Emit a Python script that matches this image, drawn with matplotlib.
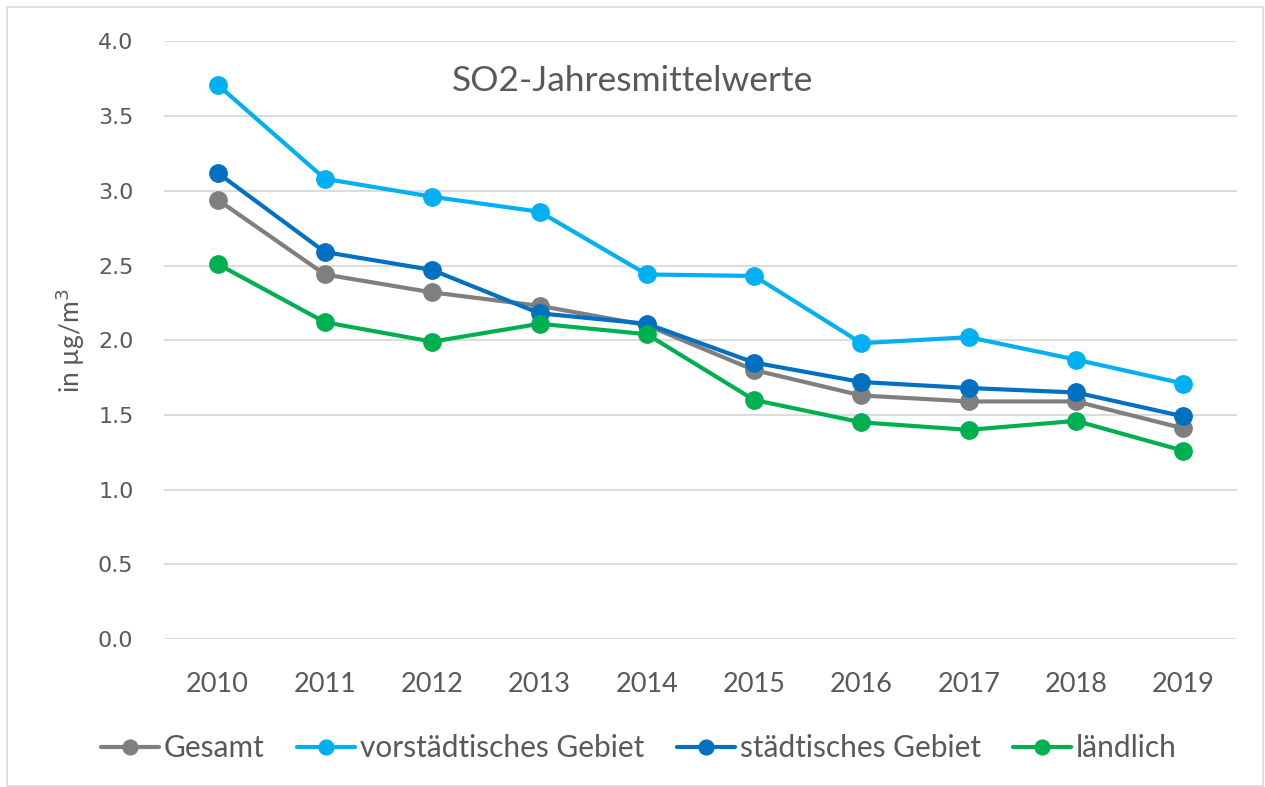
import matplotlib
matplotlib.use("Agg")
import matplotlib.pyplot as plt
from matplotlib.patches import Rectangle

# Annual mean SO2 concentrations (µg/m³)
years = ["2010", "2011", "2012", "2013", "2014", "2015", "2016", "2017", "2018", "2019"]
gesamt = [2.94, 2.44, 2.32, 2.23, 2.10, 1.80, 1.63, 1.59, 1.59, 1.41]
vorstaedtisch = [3.71, 3.08, 2.96, 2.86, 2.44, 2.43, 1.98, 2.02, 1.87, 1.71]
staedtisch = [3.12, 2.59, 2.47, 2.18, 2.11, 1.85, 1.72, 1.68, 1.65, 1.49]
laendlich = [2.51, 2.12, 1.99, 2.11, 2.04, 1.60, 1.45, 1.40, 1.46, 1.26]

series = [
    ("Gesamt", gesamt, "#7F7F7F"),
    ("vorstädtisches Gebiet", vorstaedtisch, "#00B0F0"),
    ("städtisches Gebiet", staedtisch, "#0070C0"),
    ("ländlich", laendlich, "#00B050"),
]

yticks = [0.0, 0.5, 1.0, 1.5, 2.0, 2.5, 3.0, 3.5, 4.0]

TEXT = "#595959"
GRID = "#D9D9D9"
LABEL_FONT = ["Lato", "DejaVu Sans"]

W, H = 1265, 787
fig = plt.figure(figsize=(W / 100, H / 100), dpi=100)
fig.patch.set_facecolor("white")

# thin outer frame of the chart area
fig.add_artist(Rectangle((7 / W, 1 - 786 / H), (1263 - 7) / W, (786 - 7) / H,
                         transform=fig.transFigure, fill=False,
                         edgecolor="#D9D9D9", linewidth=1.2))

left, right = 164 / W, 1237 / W
bottom, top = 1 - 639 / H, 1 - 41.4 / H
ax = fig.add_axes([left, bottom, right - left, top - bottom])

x = list(range(len(years)))
for name, vals, col in series:
    ax.plot(x, vals, color=col, linewidth=3.0, marker="o", markersize=12.5,
            label=name, solid_capstyle="round", zorder=3)

ax.set_xlim(-0.5, len(years) - 0.5)
ax.set_ylim(0, 4)
ax.set_yticks(yticks)
ax.set_yticklabels([f"{v:.1f}" for v in yticks], fontsize=16,
                   color=TEXT, family="DejaVu Sans")
ax.set_xticks(x)
ax.set_xticklabels(years, fontsize=19.5, color=TEXT, family=LABEL_FONT)
ax.tick_params(axis="y", length=0, pad=22)
ax.tick_params(axis="x", length=0, pad=24)

ax.grid(axis="y", color=GRID, linewidth=1.3, zorder=0)
ax.set_axisbelow(True)
for s in ax.spines.values():
    s.set_visible(False)

ax.set_ylabel("in µg/m$^3$", fontsize=19, color=TEXT, family=LABEL_FONT)
ax.yaxis.set_label_coords(-0.072, 0.5)

ax.text(0.437, 0.934, "SO2-Jahresmittelwerte", transform=ax.transAxes,
        ha="center", va="center", fontsize=25.5, color=TEXT, family=LABEL_FONT)

leg = fig.legend(loc="center", bbox_to_anchor=(0.505, 1 - 748 / H), ncol=4,
                 frameon=False, handlelength=1.95, handletextpad=0.16,
                 columnspacing=1.08, prop={"family": LABEL_FONT, "size": 21.5},
                 labelcolor=TEXT, markerscale=0.85)

fig.savefig("out.png", dpi=100, facecolor="white")
